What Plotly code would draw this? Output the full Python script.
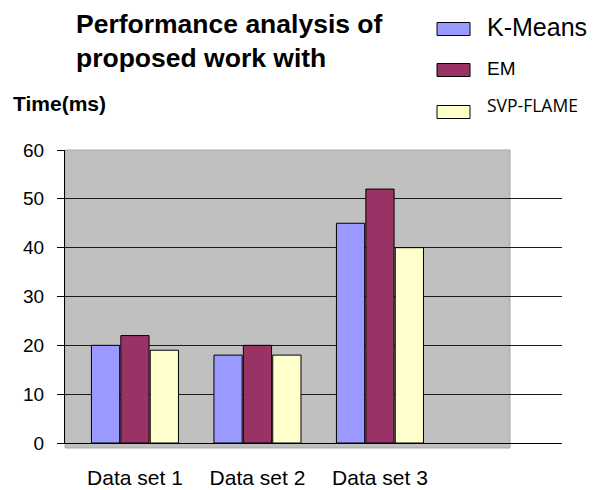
import plotly.graph_objects as go

# ---- data ----
categories = ["Data set 1", "Data set 2", "Data set 3"]
series_names = ["K-Means", "EM", "SVP-FLAME"]
kmeans = [20, 18, 45]
em = [22, 20, 52]
svp = [19, 18, 40]
y_ticks = [0, 10, 20, 30, 40, 50, 60]
title_lines = ["Performance analysis of", "proposed work with"]
y_title = "Time(ms)"

colors = ["#9999FF", "#993366", "#FFFFCC"]

# the page puts the figure 8px in from the top-left corner
OFF = 8
W, H = 596 - OFF, 490 - OFF
# plot area in page pixels: left 65, right 562, top 150, bottom 443
PL, PR, PT, PB = 65, 562, 150, 443
L, R, T, B = PL - OFF, W - (PR - OFF), PT - OFF, H - (PB - OFF)
pw, ph = W - L - R, H - T - B


def px_x(p):  # page px -> paper
    return (p - OFF - L) / pw


def px_y(p):
    return (H - B - (p - OFF)) / ph


xr = [-0.571, 3.486]
boundaries = [-0.571, 0.784, 2.131, 3.486]

fig = go.Figure()
for name, vals, col in zip(series_names, [kmeans, em, svp], colors):
    fig.add_trace(go.Bar(
        x=categories, y=vals, name=name,
        marker=dict(color=col, line=dict(color="#000000", width=1)),
        showlegend=False,
    ))

fig.update_layout(
    width=W, height=H,
    margin=dict(l=L, r=R, t=T, b=B, autoexpand=False),
    paper_bgcolor="white",
    plot_bgcolor="white",
    barmode="group",
    bargap=0.28,
    bargroupgap=0.04,
    font=dict(family="Liberation Sans, Arial", color="#000000"),
    xaxis=dict(
        type="category", range=xr, ticks="", showgrid=False,
        showline=True, linecolor="#000000", linewidth=1,
        tickfont=dict(size=21, family="Liberation Sans, Arial"),
        ticklabelstandoff=16, zeroline=False, automargin=False,
    ),
    xaxis2=dict(
        overlaying="x", anchor="y", type="linear", range=xr,
        tickmode="array", tickvals=boundaries, ticks="outside",
        ticklen=9, tickcolor="#000000", showticklabels=False,
        showgrid=False, showline=False, zeroline=False, automargin=False,
    ),
    yaxis=dict(
        range=[0, 60], tickmode="array", tickvals=y_ticks,
        ticks="outside", ticklen=7, tickcolor="#000000",
        showgrid=True, gridcolor="#1a1a1a", gridwidth=1,
        showline=True, linecolor="#000000", linewidth=1,
        zeroline=False, automargin=False,
        tickfont=dict(size=19, family="Liberation Sans, Arial"),
        ticklabelstandoff=9,
    ),
)

# gray plot background (ends before right edge)
fig.add_shape(type="rect", xref="paper", yref="paper",
              x0=0, x1=px_x(510), y0=px_y(448), y1=1,
              fillcolor="#C0C0C0", line=dict(color="#A8A8A8", width=1),
              layer="below")

# title
fig.add_annotation(
    xref="paper", yref="paper", x=px_x(74), y=px_y(7),
    xanchor="left", yanchor="top", align="left", showarrow=False,
    text="<br>".join(title_lines),
    font=dict(size=26.5, family="Liberation Sans, Arial", weight="bold"),
)

# y axis title
fig.add_annotation(
    xref="paper", yref="paper", x=px_x(11), y=px_y(103),
    xanchor="left", yanchor="middle", showarrow=False,
    text=y_title,
    font=dict(size=21, family="Liberation Sans, Arial", weight="bold"),
)

# manual legend
leg_sw_y = [29, 70, 112]
leg_tx_y = [27, 68, 105]
leg_fonts = [dict(size=25, family="Liberation Sans, Arial"),
             dict(size=19, family="Liberation Sans, Arial"),
             dict(size=17.5, family="Open Sans")]
for name, col, sy, ty, f in zip(series_names, colors, leg_sw_y, leg_tx_y, leg_fonts):
    fig.add_shape(type="rect", xref="paper", yref="paper",
                  x0=px_x(437), x1=px_x(470), y0=px_y(sy + 6.5), y1=px_y(sy - 6.5),
                  fillcolor=col, line=dict(color="#000000", width=1))
    fig.add_annotation(xref="paper", yref="paper", x=px_x(485), y=px_y(ty),
                       xanchor="left", yanchor="middle", showarrow=False,
                       text=name, font=f)

fig.write_html("out.html")
